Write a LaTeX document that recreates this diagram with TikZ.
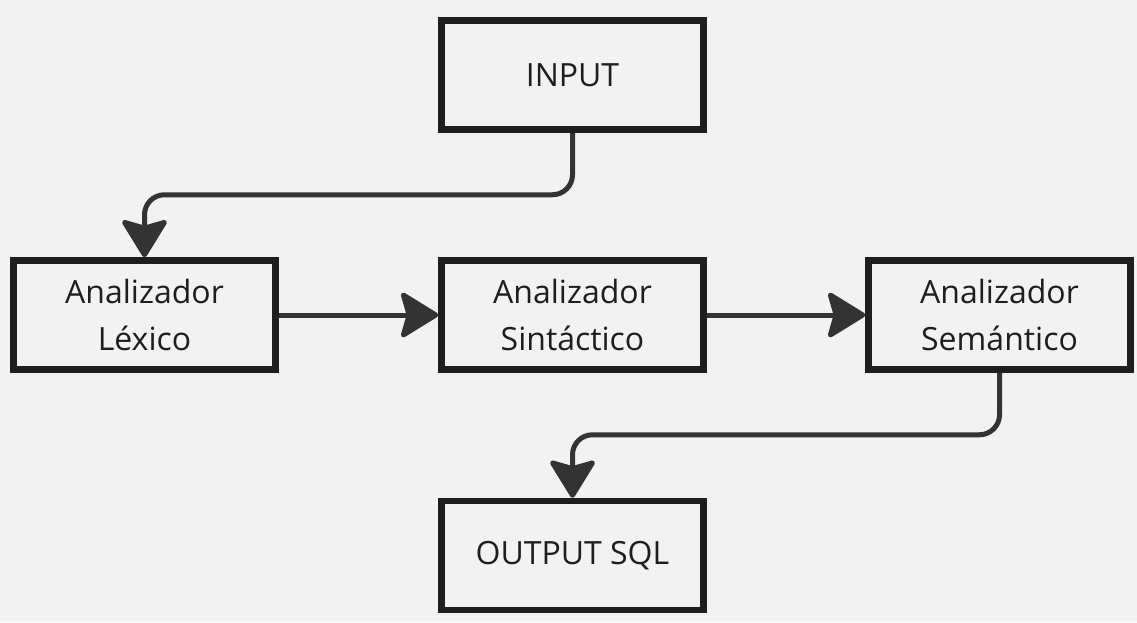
\documentclass[tikz,border=0pt]{standalone}
\usepackage{fontspec}
\setmainfont{Open Sans}
\usetikzlibrary{arrows.meta}
\definecolor{bgGray}{HTML}{F2F2F2}
\definecolor{boxLine}{HTML}{1E1E1E}
\definecolor{flowGray}{HTML}{333333}

\begin{document}
\begin{tikzpicture}[x=1pt, y=-1pt,
    box/.style={draw=boxLine, line width=6.5pt, minimum width=262pt, minimum height=109pt,
        inner sep=0pt, align=center, text=boxLine, font=\fontsize{32}{47}\selectfont},
    flow/.style={draw=flowGray, line width=5pt, rounded corners=20pt,
        -{Stealth[length=41pt, width=50pt, inset=7pt, round]}}]
    % Background
    \fill[bgGray] (0,0) rectangle (1137,622);
    \useasboundingbox (0,0) rectangle (1137,622);

    % Stages
    \node[box] (input) at (572.5, 75) {INPUT};
    \node[box] (lex) at (144.5, 315) {Analizador\\Léxico};
    \node[box] (syn) at (572.5, 315) {Analizador\\Sintáctico};
    \node[box] (sem) at (999.5, 315) {Analizador\\Semántico};
    \node[box] (out) at (572.5, 555.5) {OUTPUT SQL};

    % Flow
    \draw[flow] (input.south) -- ++(0,62) -| (lex.north);
    \draw[flow] (lex.east) -- (syn.west);
    \draw[flow] (syn.east) -- (sem.west);
    \draw[flow] (sem.south) -- ++(0,62) -| (out.north);
\end{tikzpicture}
\end{document}
